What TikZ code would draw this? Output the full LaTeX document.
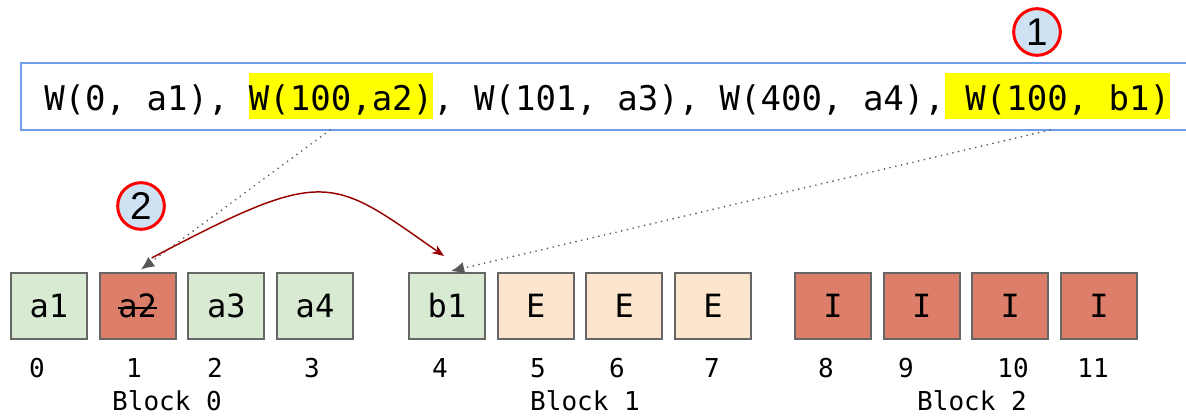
\documentclass[tikz,border=0pt]{standalone}
\usepackage{fontspec}
\setmonofont{DejaVu Sans Mono}
\newfontfamily\tagfont{Liberation Sans}
\usetikzlibrary{arrows.meta,positioning}
\frenchspacing

\definecolor{okgreen}{HTML}{D9EAD3}
\definecolor{badred}{HTML}{DD7E6B}
\definecolor{freeorange}{HTML}{FCE5CD}
\definecolor{cellgray}{HTML}{666666}
\definecolor{logblue}{HTML}{6D9EEB}
\definecolor{hlyellow}{HTML}{FFFF00}
\definecolor{tagblue}{HTML}{CFE2F3}
\definecolor{movered}{HTML}{990000}
\definecolor{ptrgray}{HTML}{595959}

\newcommand{\hlw}[1]{{\setlength{\fboxsep}{0pt}\colorbox{hlyellow}{\rule[-0.24em]{0pt}{1.36em}#1}}}
\newcommand{\crossout}[1]{\setbox0\hbox{#1}\rlap{\rule[0.28em]{\wd0}{1.6pt}}\box0}

\tikzset{
  cell/.style={draw=cellgray, line width=1.5pt, minimum width=57pt, minimum height=49.5pt,
    inner sep=0pt, font=\ttfamily\fontsize{24}{24}\selectfont},
  live/.style={cell, fill=okgreen},
  dead/.style={cell, fill=badred},
  spare/.style={cell, fill=freeorange},
  idx/.style={inner sep=0pt, font=\ttfamily\fontsize{19.5}{20}\selectfont},
  tag/.style={circle, draw=red, line width=2.25pt, fill=tagblue, minimum size=35pt,
    inner sep=0pt, font=\tagfont\fontsize{29}{29}\selectfont},
  ptr/.style={ptrgray, line width=1.4pt, line cap=round, dash pattern=on 0pt off 4.4pt,
    -{Latex[length=10pt,width=9pt]}, shorten >=3pt},
  move/.style={movered, line width=1.1pt, -{Stealth[length=9pt,width=7pt]}}
}

\begin{document}
\begin{tikzpicture}[x=0.75pt, y=-0.75pt, node distance=8pt]

\useasboundingbox (0,0) rectangle (1186,416);

% write log
\node[anchor=north west, draw=logblue, line width=1.5pt, minimum width=885pt,
  minimum height=50pt, inner sep=0pt] (log) at (20,62) {};
\node[anchor=base west, inner sep=0pt, font=\ttfamily\fontsize{25.5}{26}\selectfont] (logtext) at (44,111)
  {W(0, a1), \hlw{W(100,a2)}, W(101, a3), W(400, a4),\hlw{~W(100, b1)}};

\node[tag] (step1) at (1037,32) {1};
\node[tag] (step2) at (141,206) {2};

% block 0
\node[live] (c0) at (49,306) {a1};
\node[dead, right=of c0] (c1) {\crossout{a2}};
\node[live, right=of c1] (c2) {a3};
\node[live, right=of c2] (c3) {a4};

% block 1
\node[live, right=40.5pt of c3] (c4) {b1};
\node[spare, right=of c4] (c5) {E};
\node[spare, right=of c5] (c6) {E};
\node[spare, right=of c6] (c7) {E};

% block 2
\node[dead, right=31.5pt of c7] (c8) {I};
\node[dead, right=of c8] (c9) {I};
\node[dead, right=of c9] (c10) {I};
\node[dead, right=of c10] (c11) {I};

% slot numbers
\node[idx] (n0) at (37,368) {0};
\node[idx] (n1) at (134,368) {1};
\node[idx] (n2) at (215,368) {2};
\node[idx] (n3) at (312,368) {3};
\node[idx] (n4) at (440,368) {4};
\node[idx] (n5) at (538,368) {5};
\node[idx] (n6) at (617,368) {6};
\node[idx] (n7) at (712,368) {7};
\node[idx] (n8) at (826,368) {8};
\node[idx] (n9) at (906,368) {9};
\node[idx] (n10) at (1013,368) {10};
\node[idx] (n11) at (1093,368) {11};

\node[idx] (blk0) at (167,401) {Block 0};
\node[idx] (blk1) at (585,401) {Block 1};
\node[idx] (blk2) at (972,401) {Block 2};

% pointers from the log
\coordinate (src2) at (330,130);
\coordinate (src5) at (1050,130);
\draw[ptr] (src2) -- (c1.north);
\draw[ptr] (src5) -- (c4.north);

% relocation
\coordinate (mvfrom) at ([shift={(14,-14)}]c1.north);
\coordinate (mvto) at ([shift={(-3,-16)}]c4.north);
\draw[move] (mvfrom) .. controls (326,166) and (330,176) .. (mvto);

\end{tikzpicture}
\end{document}
